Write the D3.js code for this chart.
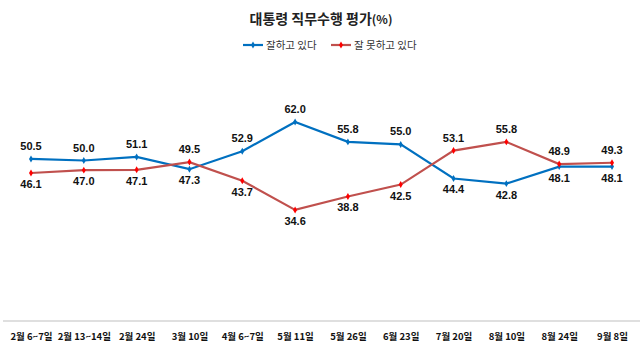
<!DOCTYPE html>
<html><head><meta charset="utf-8">
<script src="https://cdn.jsdelivr.net/npm/d3@7"></script>
<style>body{margin:0;background:#fff}svg{display:block}text{font-family:"Noto Sans CJK KR","Noto Sans",sans-serif}</style>
</head><body>
<script>
const categories = ["2월 6~7일","2월 13~14일","2월 24일","3월 10일","4월 6~7일","5월 11일","5월 26일","6월 23일","7월 20일","8월 10일","8월 24일","9월 8일"];
const good = [50.5,50.0,51.1,47.3,52.9,62.0,55.8,55.0,44.4,42.8,48.1,48.1];
const bad = [46.1,47.0,47.1,49.5,43.7,34.6,38.8,42.5,53.1,55.8,48.9,49.3];
const seriesNames = ["잘하고 있다","잘 못하고 있다"];
const W=643,H=358;
const svg=d3.select("body").append("svg").attr("width",W).attr("height",H);
const x=d3.scalePoint().domain(categories).range([31,612]);
const y=d3.scaleLinear().domain([0,70]).range([321,321-70*3.21]);
svg.append("text").attr("x",321).attr("y",24).attr("text-anchor","middle").attr("font-size",14).attr("font-weight","bold").attr("fill","#222")
  .text("대통령 직무수행 평가").append("tspan").attr("font-size",12).text("(%)");
// legend
const lg=[{n:seriesNames[0],c:"#0070C0",m:"#0070C0",x:243},{n:seriesNames[1],c:"#C0504D",m:"#FF0000",x:331}];
lg.forEach(l=>{
  svg.append("line").attr("x1",l.x).attr("x2",l.x+20).attr("y1",45).attr("y2",45).attr("stroke",l.c).attr("stroke-width",2.2);
  svg.append("path").attr("d",d3.symbol(d3.symbolDiamond,14)()).attr("transform",`translate(${l.x+10},45)`).attr("fill",l.m);
  svg.append("text").attr("x",l.x+23).attr("y",49).attr("font-size",10.5).attr("fill","#333").text(l.n);
});
// baseline
svg.append("line").attr("x1",3).attr("x2",640).attr("y1",321).attr("y2",321).attr("stroke","#bfbfbf").attr("stroke-width",1);
const xa=svg.append("g").attr("transform","translate(0,321)").call(d3.axisBottom(x).tickSize(0).tickPadding(12));
xa.select(".domain").remove();
xa.selectAll("text").attr("font-size",9.5).attr("font-weight","bold").attr("fill","#111").style("font-family","'Noto Sans CJK KR',sans-serif");
const line=d3.line().x((d,i)=>x(categories[i])).y(d=>y(d));
const sers=[{v:good,c:"#0070C0",m:"#0070C0"},{v:bad,c:"#C0504D",m:"#FF0000"}];
sers.forEach((s,si)=>{
  svg.append("path").datum(s.v).attr("d",line).attr("fill","none").attr("stroke",s.c).attr("stroke-width",2.2);
  svg.selectAll(null).data(s.v).enter().append("path").attr("d",d3.symbol(d3.symbolDiamond,14)())
    .attr("transform",(d,i)=>`translate(${x(categories[i])},${y(d)})`).attr("fill",s.m);
  const other=si===0?bad:good;
  svg.selectAll(null).data(s.v).enter().append("text")
    .attr("x",(d,i)=>x(categories[i])).attr("y",(d,i)=>d>=other[i]?y(d)-9:y(d)+15)
    .attr("text-anchor","middle").attr("font-size",11).attr("font-weight","bold").attr("fill","#111")
    .style("font-family","'Liberation Sans',Arial,sans-serif")
    .text(d=>d.toFixed(1));
});
</script>
</body></html>
